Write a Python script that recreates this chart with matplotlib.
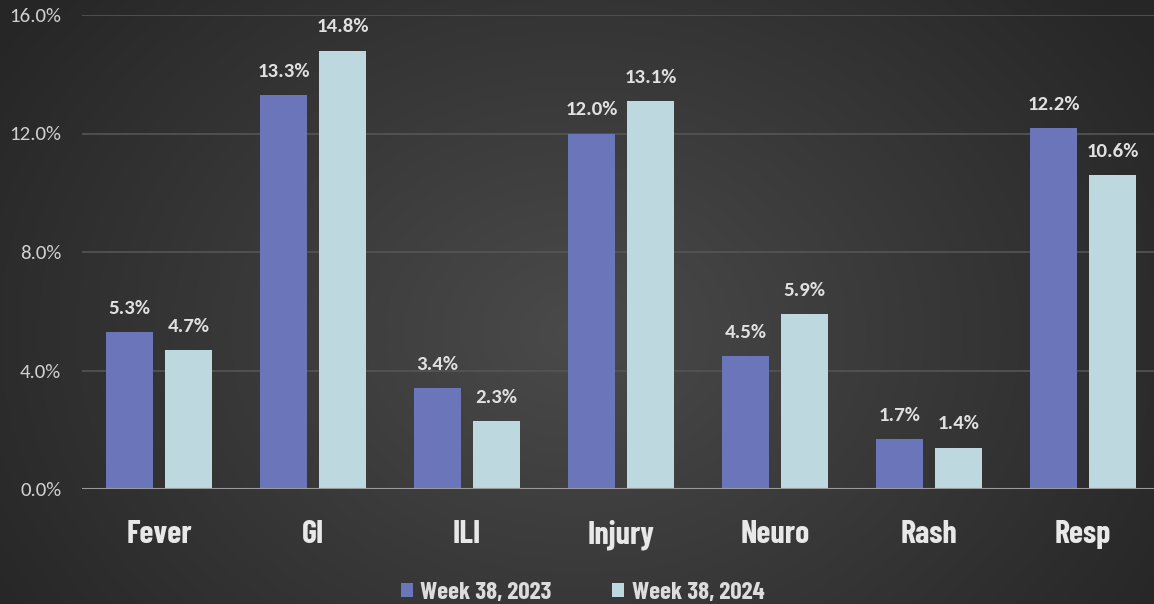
import numpy as np
import matplotlib
matplotlib.use("Agg")
import matplotlib.pyplot as plt
from matplotlib import font_manager

categories = ["Fever", "GI", "ILI", "Injury", "Neuro", "Rash", "Resp"]
series_names = ["Week 38, 2023", "Week 38, 2024"]
vals_2023 = [5.3, 13.3, 3.4, 12.0, 4.5, 1.7, 12.2]
vals_2024 = [4.7, 14.8, 2.3, 13.1, 5.9, 1.4, 10.6]
yticks = [0, 4, 8, 12, 16]

colors = ["#6B75B9", "#BDD8DE"]

names = {f.name for f in font_manager.fontManager.ttflist}
def pick(*cands):
    for c in cands:
        if c in names:
            return c
    return "DejaVu Sans"
cond = pick("Barlow Condensed", "Roboto Condensed", "DejaVu Sans")
calib = pick("Carlito", "Open Sans")

W, H = 1154, 604
fig = plt.figure(figsize=(W / 100, H / 100), dpi=100)

# radial gradient background
bg = fig.add_axes([0, 0, 1, 1], zorder=0)
yy, xx = np.mgrid[0:H, 0:W]
cx, cy = W * 0.5, H * 0.55
r = np.sqrt(((xx - cx) / (W * 0.6)) ** 2 + ((yy - cy) / (H * 0.9)) ** 2)
r = np.clip(r, 0, 1)
inner = np.array([0x4A, 0x4A, 0x4A]) / 255
outer = np.array([0x26, 0x26, 0x26]) / 255
img = inner[None, None, :] * (1 - r[..., None]) + outer[None, None, :] * r[..., None]
bg.imshow(img, aspect="auto", extent=[0, W, H, 0])
bg.set_axis_off()

left = 82 / W
width = 1078 / W
bottom = (H - 489) / H
top = (H - 15) / H
ax = fig.add_axes([left, bottom, width, top - bottom], zorder=1)
ax.patch.set_alpha(0)

x = np.arange(len(categories))
bw = 47 / 154
gap = 12 / 154
off = (bw + gap) / 2
b1 = ax.bar(x - off, vals_2023, bw, color=colors[0], zorder=3, label=series_names[0])
b2 = ax.bar(x + off, vals_2024, bw, color=colors[1], zorder=3, label=series_names[1])

for bars, vals in ((b1, vals_2023), (b2, vals_2024)):
    for rect, v in zip(bars, vals):
        ax.annotate(f"{v:.1f}%", (rect.get_x() + rect.get_width() / 2, v),
                    xytext=(0, 13), textcoords="offset points",
                    ha="center", va="baseline", color="#E0E0E0", fontsize=15,
                    fontweight="bold", family=calib, zorder=4)

ax.set_xlim(-0.5, len(categories) - 0.5)
ax.set_ylim(0, 16)
ax.set_yticks(yticks)
ax.set_yticklabels([f"{t:.1f}%" for t in yticks], color="#D0D0D0", fontsize=15, family=calib)
ax.tick_params(axis="y", length=0, pad=15)
ax.set_xticks(x)
ax.set_xticklabels(categories, color="#E8E8E8", fontsize=23, fontweight="bold", family=cond)
ax.tick_params(axis="x", length=0, pad=22)
ax.grid(axis="y", color="#555555", linewidth=1.2, zorder=0)
ax.axhline(0, color="#9A9A9A", linewidth=1.5, zorder=4)
for s in ax.spines.values():
    s.set_visible(False)

leg = fig.legend(handles=[b1, b2], labels=series_names, loc="center",
                 bbox_to_anchor=(582.5 / W, (H - 593) / H), ncol=2, frameon=False,
                 prop={"family": cond, "weight": "bold", "size": 18},
                 handlelength=0.5, handleheight=0.5, handletextpad=0.3,
                 columnspacing=2.4, labelcolor="#DCDCDC")

fig.savefig("out.png", dpi=100)
